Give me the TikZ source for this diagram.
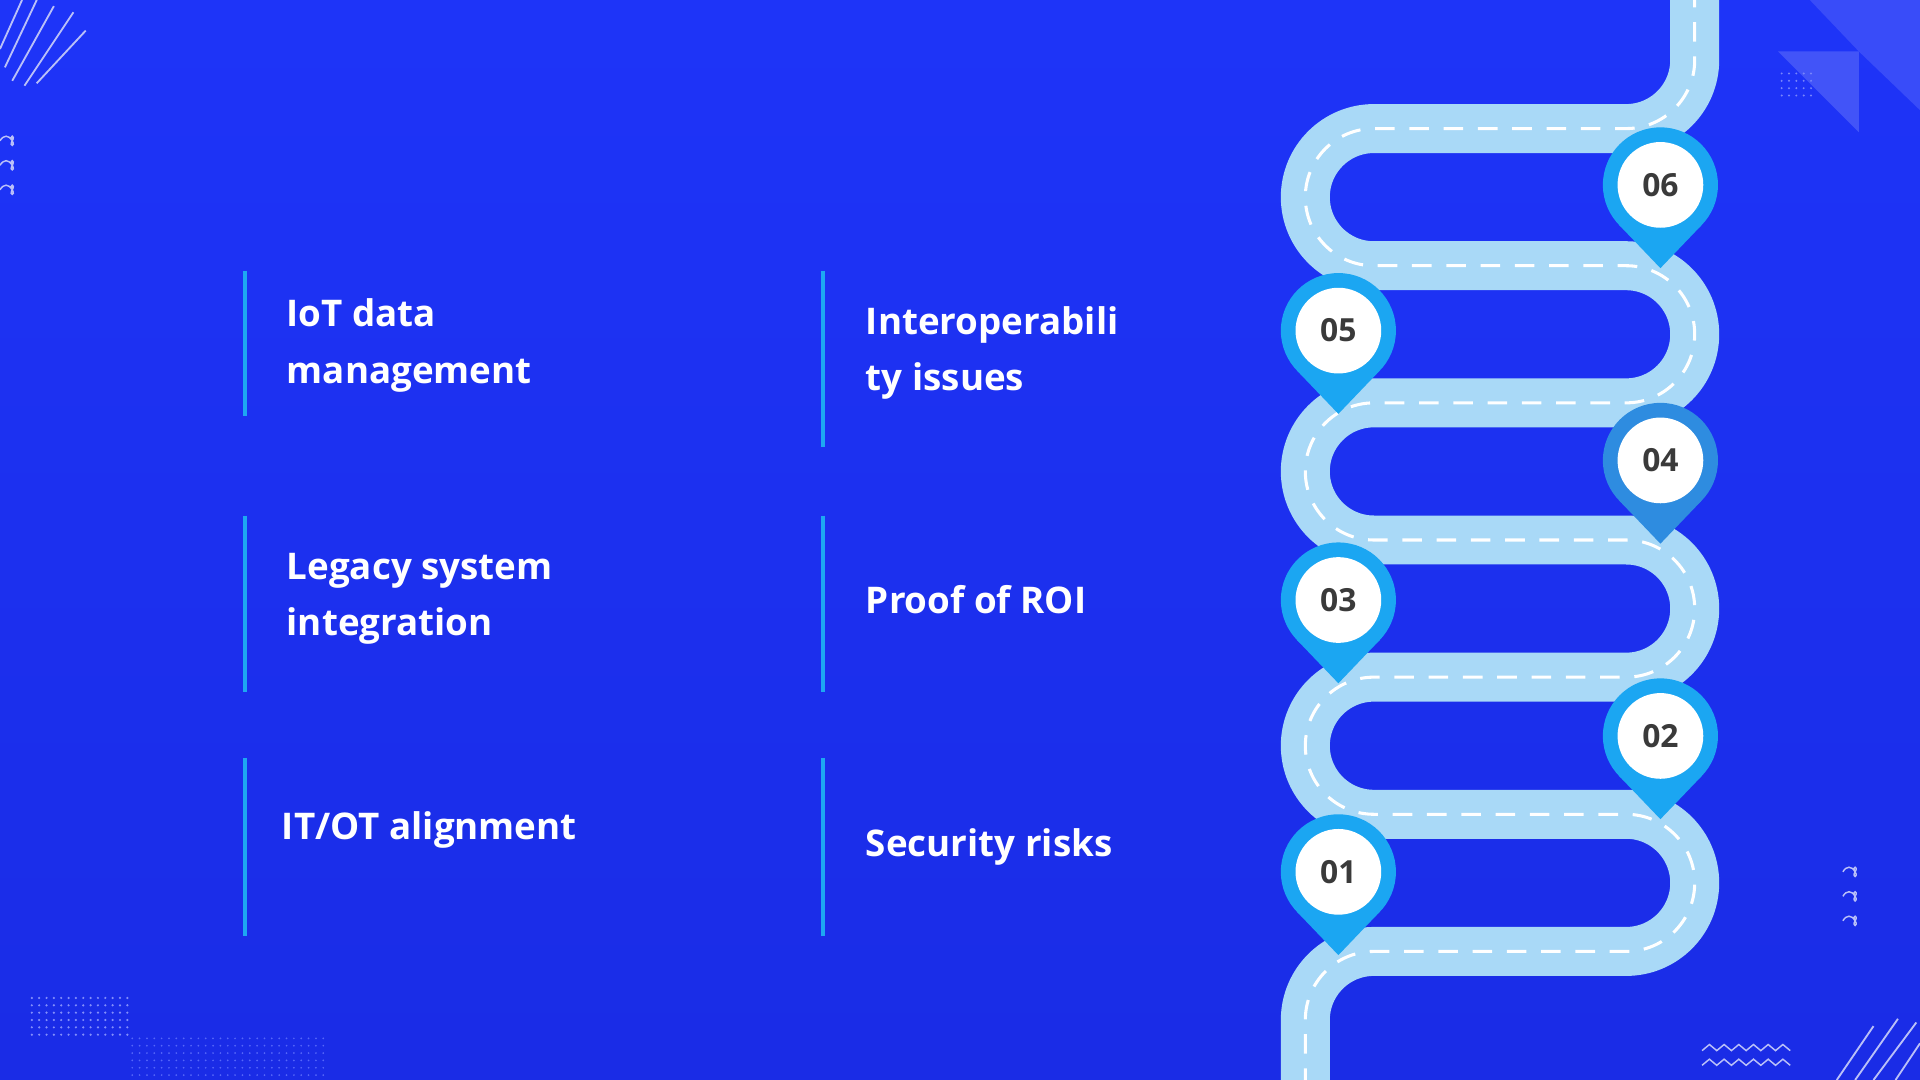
\documentclass[tikz,border=0pt]{standalone}
\usepackage{fontspec}
\usetikzlibrary{calc}
\setmainfont{Open Sans}
\begin{document}
\begin{tikzpicture}[x=1pt,y=-1pt,
  lbl/.style={anchor=west,text=white,font=\fontsize{30}{46}\selectfont\bfseries,align=left,inner sep=0},
  bar/.style={draw=barc,line width=3pt},
  num/.style={circle,fill=white,minimum size=70pt,inner sep=0,text=numc,font=\fontsize{26}{30}\selectfont\bfseries},
  deco/.style={draw=white!70!bgb,line width=1.2pt}]
\definecolor{bgt}{HTML}{1E34F8}
\definecolor{bgb}{HTML}{1A2CE6}
\definecolor{road}{HTML}{A9D9F7}
\definecolor{barc}{HTML}{1DA8F2}
\definecolor{pinc}{HTML}{1BA6F2}
\definecolor{pind}{HTML}{2E8CE0}
\definecolor{numc}{HTML}{3A3A3A}
\useasboundingbox (0,0) rectangle (1568,882);
\shade[top color=bgt,bottom color=bgb] (0,0) rectangle (1568,882);
% decorations
\fill[white!20!bgt,opacity=0.8] (1452,42) -- (1518,42) -- (1518,108) -- cycle;
\fill[white!12!bgt] (1478,0) -- (1518,0) -- (1518,42) -- cycle;
\fill[white!12!bgt] (1518,0) -- (1568,0) -- (1568,90) -- (1518,42) -- cycle;
\foreach \i in {0,...,4}\foreach \j in {0,...,3}{\fill[white!40!bgt] (1455+\i*6,60+\j*6) circle(0.9);}
\foreach \yy in {115,135,155}{\draw[deco] (0,\yy) \foreach \k in {0,...,5}{ .. controls +(3,-5) and +(-3,-5) .. +(10,0) .. controls +(3,5) and +(-3,5) .. +(10,0)};}
\foreach \yy in {712,732,752}{\draw[deco] (1505,\yy) \foreach \k in {0,...,5}{ .. controls +(3,-5) and +(-3,-5) .. +(10,0) .. controls +(3,5) and +(-3,5) .. +(10,0)};}
\foreach \yy in {858,870}{\draw[deco] (1390,\yy) \foreach \k in {0,...,5}{ -- ++(6,-5) -- ++(6,5)};}
\foreach \i in {0,...,13}\foreach \j in {0,...,5}{\fill[white!45!bgt] (26+\i*6,815+\j*6) circle(1);}
\foreach \i in {0,...,26}\foreach \j in {0,...,5}{\fill[white!25!bgt] (108+\i*6,848+\j*6) circle(0.8);}
\draw[deco,line width=1.5pt] (0,40) -- (18,0) (4,55) -- (30,0) (10,66) -- (44,5) (20,70) -- (60,10) (30,68) -- (70,25);
\draw[deco,line width=1.5pt] (1500,882) -- (1530,838) (1515,882) -- (1550,832) (1530,882) -- (1565,835) (1548,882) -- (1568,852);
% road
\draw[road,line width=40pt,rounded corners=56pt] (1384,-10) -- (1384,105) -- (1066,105) -- (1066,217) -- (1384,217) -- (1384,329) -- (1066,329) -- (1066,441) -- (1384,441) -- (1384,553) -- (1066,553) -- (1066,665) -- (1384,665) -- (1384,777) -- (1066,777) -- (1066,892);
\draw[white,line width=2.5pt,dash pattern=on 16pt off 12pt,rounded corners=56pt] (1384,-10) -- (1384,105) -- (1066,105) -- (1066,217) -- (1384,217) -- (1384,329) -- (1066,329) -- (1066,441) -- (1384,441) -- (1384,553) -- (1066,553) -- (1066,665) -- (1384,665) -- (1384,777) -- (1066,777) -- (1066,892);
% pins
\foreach \x/\y/\t/\c in {1356/151/06/pinc,1093/270/05/pinc,1356/376/04/pind,1093/490/03/pinc,1356/601/02/pinc,1093/712/01/pinc}{
  \fill[\c] (\x,\y) circle(47);
  \fill[\c] (\x,\y) ++(44:47) -- (\x,\y+68) -- ($(\x,\y)+(136:47)$) -- cycle;
  \node[num] (p\t) at (\x,\y) {\t};
}
% bars
\draw[bar] (200,221) -- (200,340);
\draw[bar] (672,221) -- (672,365);
\draw[bar] (200,421) -- (200,565);
\draw[bar] (672,421) -- (672,565);
\draw[bar] (200,619) -- (200,764);
\draw[bar] (672,619) -- (672,764);
% labels
\node[lbl] (t1) at (234,282) {IoT data\\management};
\node[lbl] (t2) at (707,288) {Interoperabili\\ty issues};
\node[lbl] (t3) at (234,489) {Legacy system\\integration};
\node[lbl] (t4) at (707,490) {Proof of ROI};
\node[lbl] (t5) at (230,678) {IT/OT alignment};
\node[lbl] (t6) at (707,692) {Security risks};
\end{tikzpicture}
\end{document}
